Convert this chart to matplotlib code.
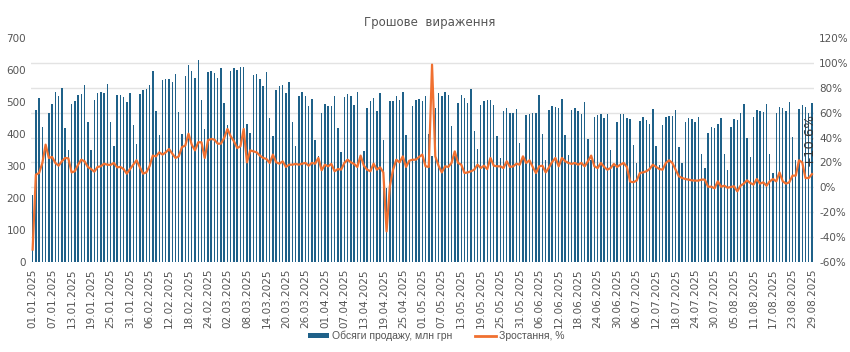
import numpy as np
import pandas as pd
import matplotlib
matplotlib.use("Agg")
import matplotlib.pyplot as plt
from matplotlib.patches import Patch
from matplotlib.lines import Line2D

# щоденні дані 01.01.2025 - 29.08.2025
dates = pd.date_range("2025-01-01", "2025-08-29", freq="D")

sales = [
    208, 476, 512, 421, 370, 466, 495, 532, 520, 543,
    419, 349, 493, 504, 522, 526, 553, 437, 351, 507,
    528, 532, 529, 557, 437, 361, 522, 522, 515, 501,
    529, 429, 369, 525, 539, 542, 553, 597, 473, 397,
    568, 572, 572, 564, 588, 470, 400, 582, 617, 597,
    575, 632, 505, 417, 594, 598, 590, 575, 605, 496,
    428, 597, 606, 601, 608, 610, 432, 403, 585, 586,
    572, 551, 594, 450, 395, 539, 551, 554, 529, 561,
    436, 364, 520, 530, 520, 486, 510, 382, 330, 466,
    493, 486, 486, 520, 419, 345, 515, 526, 519, 492,
    532, 324, 346, 481, 504, 512, 473, 529, 382, 230,
    502, 504, 518, 505, 532, 398, 320, 489, 505, 509,
    504, 518, 400, 330, 482, 527, 520, 531, 521, 424,
    330, 496, 521, 512, 498, 541, 410, 353, 490, 504,
    506, 506, 492, 394, 326, 472, 480, 465, 465, 477,
    371, 332, 458, 463, 467, 467, 521, 399, 319, 475,
    489, 484, 481, 510, 398, 335, 474, 481, 472, 461,
    501, 385, 320, 452, 459, 462, 450, 462, 351, 300,
    439, 461, 461, 450, 447, 367, 309, 442, 453, 445,
    432, 479, 361, 304, 428, 453, 457, 457, 476, 359,
    309, 439, 450, 447, 436, 453, 338, 294, 403, 422,
    418, 431, 450, 338, 289, 423, 448, 445, 466, 494,
    388, 328, 453, 475, 472, 469, 494, 338, 278, 465,
    485, 481, 473, 501, 391, 320, 478, 491, 483, 465,
    496,
]

growth = [
    -50, 10.2, 11.5, 19.6, 34.3, 23.6, 24.4, 19.6, 17.4, 20.9,
    23.6, 23.3, 12, 12.9, 18.2, 22.2, 20.9, 16.4, 14.7, 12.6,
    16.4, 16.9, 19, 18.2, 18, 19.6, 16.1, 16.4, 14.7, 11,
    14.7, 18.2, 21.7, 16.4, 11, 12, 16.9, 25.5, 24.9, 28.1,
    26.3, 28.1, 30.8, 27.1, 23.6, 24.9, 32.4, 33.5, 43.1, 34.3,
    29.7, 36.2, 36.2, 23.6, 37.8, 38.9, 38.3, 35.1, 35.1, 39.7,
    46.9, 41, 37, 31.6, 33, 46.9, 20.1, 29.7, 28.9, 28.1,
    25.5, 23.6, 22.8, 19.6, 26.3, 20.1, 19, 20.9, 16.4, 18.2,
    18.2, 18.8, 18.2, 19, 19.6, 17.4, 19.6, 19, 23.6, 13.7,
    18.2, 16.9, 18.8, 12.9, 14.7, 14.2, 19.6, 22.2, 20.1, 18.8,
    16.4, 25.5, 17.4, 14.2, 12.9, 19, 14.2, 16.1, 12, -35.4,
    0.8, 14.2, 22.2, 20.1, 24.9, 16.4, 21.4, 22.2, 22.2, 24.4,
    26.3, 16.9, 16.4, 98.6, 24.9, 17.4, 12, 16.9, 16.4, 19.6,
    28.9, 19.6, 18.2, 11.5, 12, 12.9, 14.2, 18.2, 15.5, 17.4,
    14.7, 23.6, 17.4, 16.9, 16.9, 15.5, 20.9, 16.4, 16.9, 19,
    18.2, 24.9, 19.6, 21.7, 16.4, 11.5, 16.9, 17.4, 12, 16,
    20.5, 23.6, 16.9, 23.6, 20.9, 19.6, 18.8, 19.6, 18.2, 19.6,
    16.9, 20.9, 25.5, 16.9, 15.5, 19.6, 16.4, 14.2, 15.5, 18.8,
    16.4, 18.2, 19.6, 16.4, 4.6, 4.1, 5.4, 11.5, 12, 12.9,
    14.7, 18.2, 16.4, 14.7, 14.2, 19.6, 21.7, 19.6, 14.2, 8.9,
    7.5, 6.7, 6.2, 5.6, 5.4, 5.4, 6.2, 6.2, 0.5, 0.5,
    -0.8, 4.8, 0.5, 1.3, -0.3, 0.3, 0.8, -3.2, 1.3, 3,
    5.6, 3.5, 2.2, 6.7, 3, 4, 1.3, 4.8, 6.7, 4.8,
    12, 4.8, 3, 4, 9.4, 9.4, 21.7, 20.1, 7.5, 7.5,
    10.6,
]

labels = [d.strftime("%d.%m.%Y") for d in dates]
bar_color = "#1f6189"
line_color = "#f07030"
txt_color = "#555555"

x = np.arange(len(dates))

fig = plt.figure(figsize=(8.5, 3.52), dpi=100)
ax = fig.add_axes([31 / 850, 90 / 352, 782.6 / 850, 224 / 352])
ax2 = ax.twinx()

ax.bar(x, sales, width=0.45, color=bar_color, zorder=2)
ax.set_ylim(0, 700)
ax.set_yticks(np.arange(0, 701, 100))
# сітка по правій осі (-60..120 через 20)
ax.set_yticks(np.linspace(0, 700, 10), minor=True)
ax.grid(which="minor", axis="y", color="#e3e3e3", linewidth=1.0)
ax.set_axisbelow(True)
ax.set_xlim(-0.5, len(x) - 0.5)
ax.set_xticks(x[::6])
ax.set_xticklabels(labels[::6], rotation=90, fontsize=7.5, color=txt_color)
ax.tick_params(axis="both", which="both", length=0)
ax.tick_params(axis="y", labelsize=7.5, colors=txt_color)
ax.tick_params(axis="x", pad=5)

ax2.plot(x, growth, color=line_color, linewidth=1.6, zorder=3)
ax2.set_ylim(-60, 120)
ax2.set_yticks(np.arange(-60, 121, 20))
ax2.set_yticklabels([f"{v}%" for v in range(-60, 121, 20)])
ax2.tick_params(axis="y", length=0, labelsize=7.5, colors=txt_color, pad=4)

for a in (ax, ax2):
    for s in a.spines.values():
        s.set_visible(False)

ax2.annotate(f"+{growth[-1]}%", xy=(x[-1], growth[-1]), xytext=(-2, 6),
             textcoords="offset points", rotation=90, ha="center", va="bottom",
             fontsize=9.5, color="#333333")

fig.text(0.505, 0.935, "Грошове  вираження", ha="center", va="center",
         fontsize=8.5, color="#555555")

handles = [Patch(facecolor=bar_color, edgecolor="none"),
           Line2D([0], [0], color=line_color, linewidth=2)]
fig.legend(handles, ["Обсяги продажу, млн грн", "Зростання, %"],
           loc="center", bbox_to_anchor=(0.513, 0.045), ncol=2, frameon=False,
           prop={"family": "Liberation Sans", "size": 7.5}, labelcolor=txt_color,
           handlelength=2.0, handleheight=0.45, columnspacing=2.2,
           handletextpad=0.3)

fig.savefig("out.png", dpi=100, facecolor="white")
